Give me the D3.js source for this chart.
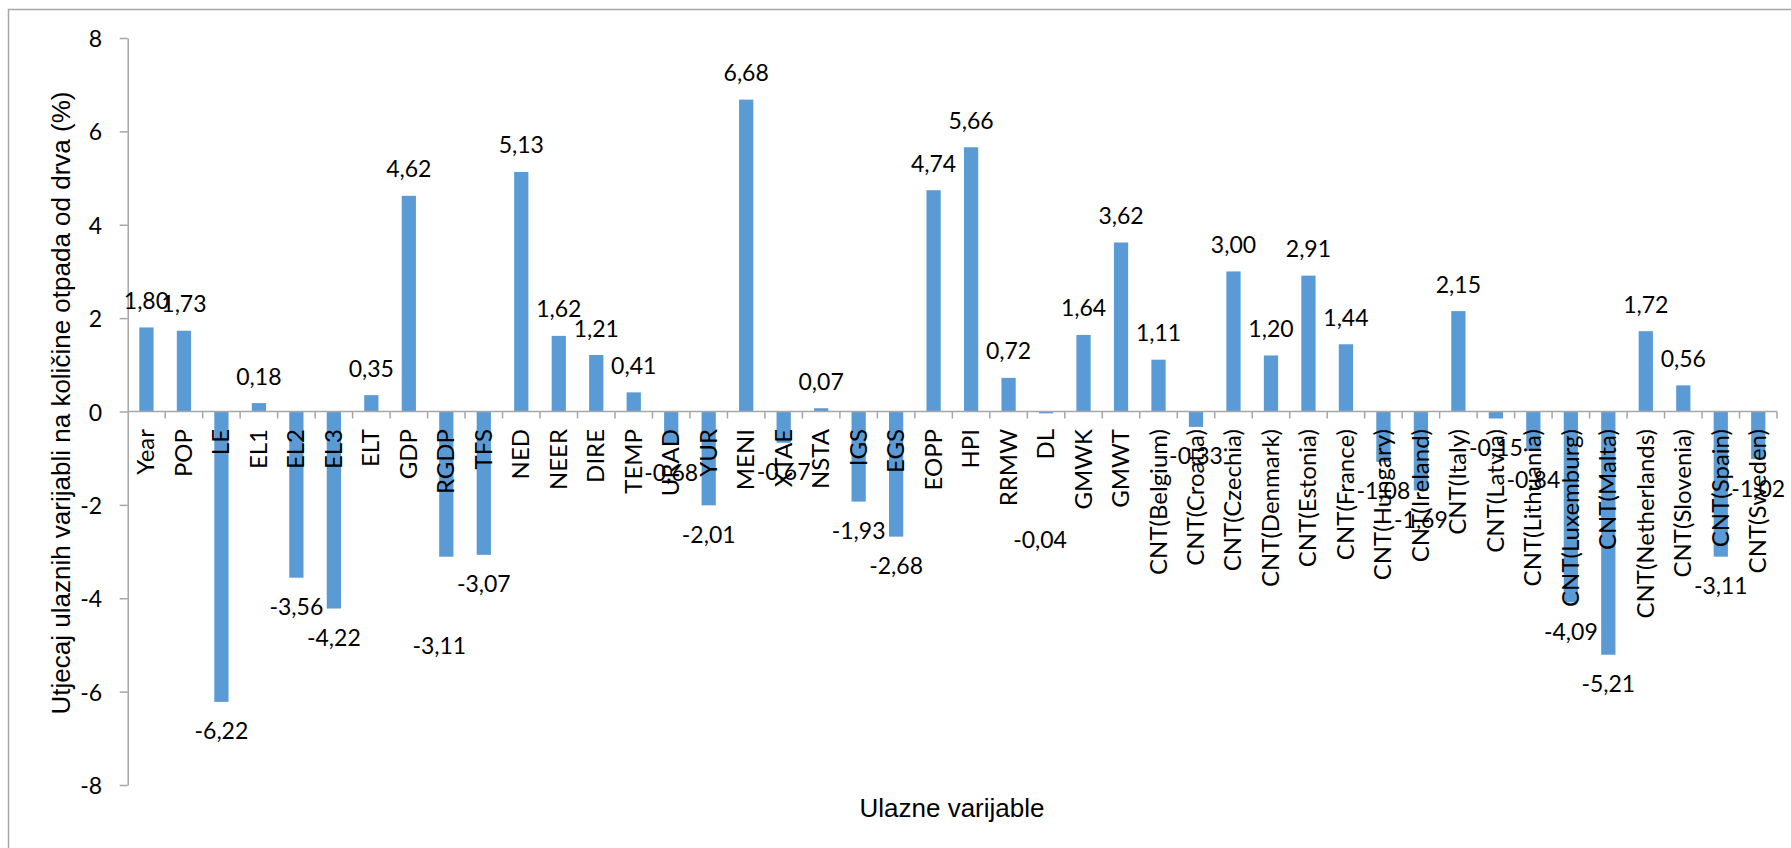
<!DOCTYPE html>
<html>
<head>
<meta charset="utf-8">
<script src="https://cdn.jsdelivr.net/npm/d3@7/dist/d3.min.js"></script>
<style>
  html, body { margin: 0; padding: 0; background: #ffffff; }
  svg { display: block; }
</style>
</head>
<body>
<svg id="chart" width="1791" height="848"></svg>
<script>
// ---- data ----
const categories = [
  "Year", "POP", "LE", "EL1", "EL2", "EL3", "ELT", "GDP", "RGDP", "TFS",
  "NED", "NEER", "DIRE", "TEMP", "URAD", "YUR", "MENI", "XTAE", "NSTA", "IGS",
  "EGS", "EOPP", "HPI", "RRMW", "DL", "GMWK", "GMWT",
  "CNT(Belgium)", "CNT(Croatia)", "CNT(Czechia)", "CNT(Denmark)", "CNT(Estonia)",
  "CNT(France)", "CNT(Hungary)", "CNT(Ireland)", "CNT(Italy)", "CNT(Latvia)",
  "CNT(Lithuania)", "CNT(Luxemburg)", "CNT(Malta)", "CNT(Netherlands)",
  "CNT(Slovenia)", "CNT(Spain)", "CNT(Sweden)"
];
const values = [
  1.80, 1.73, -6.22, 0.18, -3.56, -4.22, 0.35, 4.62, -3.11, -3.07,
  5.13, 1.62, 1.21, 0.41, -0.68, -2.01, 6.68, -0.67, 0.07, -1.93,
  -2.68, 4.74, 5.66, 0.72, -0.04, 1.64, 3.62,
  1.11, -0.33, 3.00, 1.20, 2.91,
  1.44, -1.08, -1.69, 2.15, -0.15,
  -0.84, -4.09, -5.21, 1.72,
  0.56, -3.11, -1.02
];
const yTicks = [-8, -6, -4, -2, 0, 2, 4, 6, 8];
const yTitle = "Utjecaj ulaznih varijabli na količine otpada od drva (%)";
const xTitle = "Ulazne varijable";

// manually moved data labels in the original (screen offsets, px)
const labelNudge = { "RGDP": [-7, 60], "DL": [-6, 97] };

// ---- layout ----
const svg = d3.select("#chart");
const left = 127.7, right = 1777, yTop = 38, yBottom = 785;
const barColor = "#5b9bd5";
const axisColor = "#a6a6a6";
const textFont = "Lato, 'Open Sans', sans-serif";
const titleFont = "'Liberation Sans', Arial, sans-serif";

const locale = d3.formatLocale({decimal: ",", thousands: ".", grouping: [3], currency: ["", ""], minus: "-"});
const fmt2 = locale.format(".2f");
const fmt0 = locale.format("d");

const x = d3.scaleBand().domain(categories).range([left, right]).paddingInner(0.62).paddingOuter(0.31);
const y = d3.scaleLinear().domain([-8, 8]).range([yBottom, yTop]);

// chart border (extends beyond the right/bottom edge like the original)
svg.append("rect")
  .attr("x", 8.5).attr("y", 9.5)
  .attr("width", 3000).attr("height", 3000)
  .attr("fill", "none").attr("stroke", axisColor).attr("stroke-width", 1.5);

// bars
const data = categories.map((c, i) => ({c, v: values[i]}));
svg.append("g").selectAll("rect").data(data).join("rect")
  .attr("x", d => x(d.c))
  .attr("width", x.bandwidth())
  .attr("y", d => Math.min(y(d.v), y(0)))
  .attr("height", d => Math.abs(y(d.v) - y(0)))
  .attr("fill", barColor);

// y axis
const yAxis = svg.append("g")
  .attr("transform", `translate(${left},0)`)
  .call(d3.axisLeft(y).tickValues(yTicks).tickFormat(fmt0).tickSize(8).tickSizeOuter(0).tickPadding(17.5));
yAxis.select(".domain").attr("stroke", axisColor).attr("stroke-width", 1.5);
yAxis.selectAll(".tick line").attr("stroke", axisColor).attr("stroke-width", 1.5);
yAxis.selectAll(".tick text")
  .attr("font-family", textFont).attr("font-size", 23).attr("fill", "#000")
  .attr("dy", "0.37em");

// x axis (zero line) with category labels
const xAxis = svg.append("g")
  .attr("transform", `translate(0,${y(0)})`)
  .call(d3.axisBottom(x).tickSize(0).tickSizeOuter(0));
xAxis.select(".domain").remove();
xAxis.selectAll(".tick text")
  .attr("font-family", textFont).attr("font-size", 24).attr("fill", "#000")
  .attr("transform", "rotate(-90)")
  .attr("text-anchor", "end")
  .attr("x", -17.5)
  .attr("y", 8)
  .attr("dy", 0);
const gap = (x.step() - x.bandwidth()) / 2;
const bounds = categories.map(c => x(c) - gap).concat([x(categories[categories.length - 1]) + x.bandwidth() + gap]);
xAxis.append("line")
  .attr("x1", left).attr("x2", right).attr("y1", 0).attr("y2", 0)
  .attr("stroke", axisColor).attr("stroke-width", 1.5);
xAxis.selectAll("line.btick").data(bounds.slice(1)).join("line")
  .attr("class", "btick")
  .attr("x1", d => d).attr("x2", d => d).attr("y1", 0).attr("y2", 7)
  .attr("stroke", axisColor).attr("stroke-width", 1.5);

// data labels
svg.append("g").selectAll("text").data(data).join("text")
  .attr("font-family", textFont).attr("font-size", 23).attr("fill", "#000")
  .attr("text-anchor", "middle")
  .attr("x", d => x(d.c) + x.bandwidth() / 2 + (labelNudge[d.c] ? labelNudge[d.c][0] : 0))
  .attr("y", d => (d.v >= 0 ? y(d.v) - 18.5 : y(d.v) + 37.5) + (labelNudge[d.c] ? labelNudge[d.c][1] : 0))
  .text(d => fmt2(d.v));

// axis titles
svg.append("text")
  .attr("transform", `translate(70,403) rotate(-90)`)
  .attr("text-anchor", "middle")
  .attr("font-family", titleFont).attr("font-size", 26).attr("fill", "#000")
  .text(yTitle);
svg.append("text")
  .attr("x", 952).attr("y", 817)
  .attr("text-anchor", "middle")
  .attr("font-family", titleFont).attr("font-size", 26).attr("fill", "#000")
  .text(xTitle);
</script>
</body>
</html>
